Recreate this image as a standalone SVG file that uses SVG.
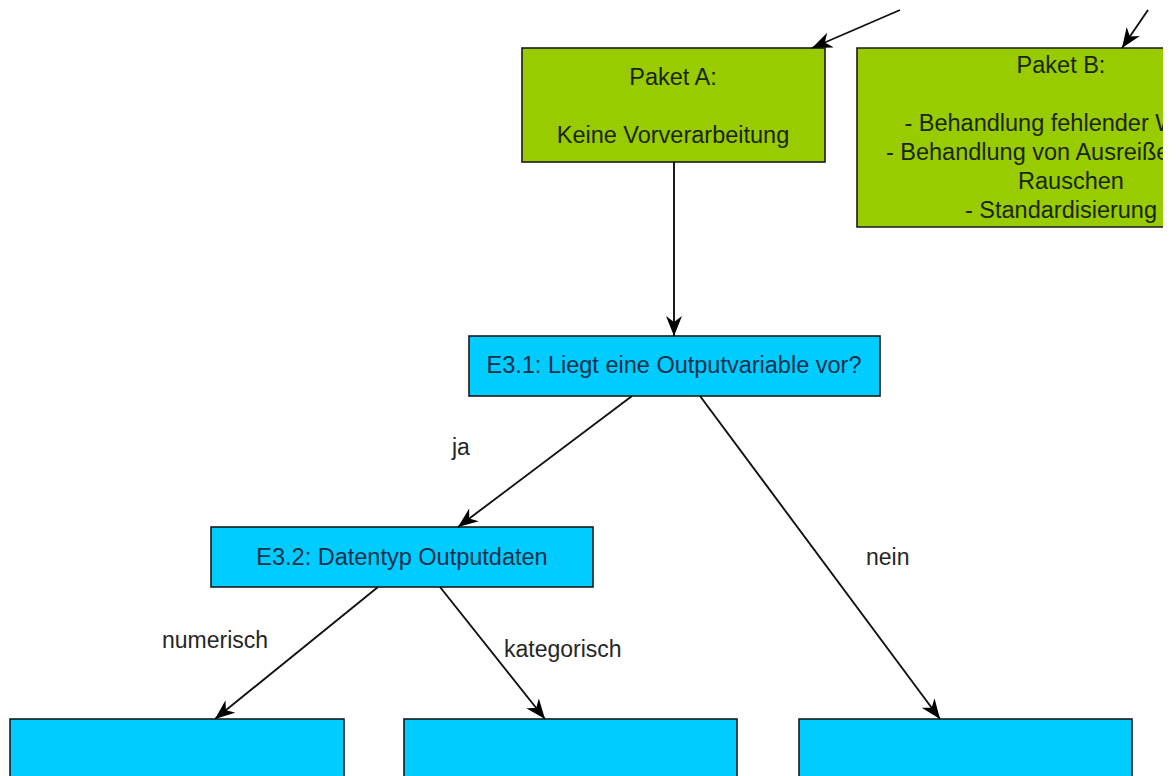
<svg xmlns="http://www.w3.org/2000/svg" width="1176" height="776" viewBox="0 0 1176 776">
  <style>
    .green { fill: #99cc00; stroke: #1a1a1a; stroke-width: 1.6; }
    .blue { fill: #00ccff; stroke: #1a1a1a; stroke-width: 1.6; }
    .t { font-family: "Liberation Sans", Arial, sans-serif; font-size: 23.5px; text-anchor: middle; }
    .tg { fill: #1a260a; }
    .tb { fill: #10304c; }
    .lbl { font-family: "Liberation Sans", Arial, sans-serif; font-size: 23px; fill: #262626; }
    .conn { stroke: #111; stroke-width: 1.9; fill: none; marker-end: url(#arr); }
  </style>
  <defs>
    <marker id="arr" markerUnits="userSpaceOnUse" markerWidth="22" markerHeight="18" refX="20" refY="8" orient="auto">
      <path d="M0,0 L20,8 L0,16 L6,8 z" fill="#000"/>
    </marker>
    <clipPath id="clipB">
      <rect x="850" y="40" width="313" height="200"/>
    </clipPath>
  </defs>
  <rect width="1176" height="776" fill="#ffffff"/>

  <g id="paketA">
    <rect class="green" x="522" y="48" width="303" height="114"/>
    <text class="t tg" x="673" y="85">Paket A:</text>
    <text class="t tg" x="673" y="143">Keine Vorverarbeitung</text>
  </g>

  <g id="paketB">
    <rect x="857" y="48" width="306" height="179" fill="#99cc00"/>
    <path d="M1163,48 H857 V227 H1163" fill="none" stroke="#1a1a1a" stroke-width="1.6"/>
    <g clip-path="url(#clipB)">
      <text class="t tg" x="1061" y="73">Paket B:</text>
      <text class="t tg" x="1061" y="131">- Behandlung fehlender Werte</text>
      <text class="t tg" x="1061" y="160">- Behandlung von Ausreißern und</text>
      <text class="t tg" x="1071" y="189">Rauschen</text>
      <text class="t tg" x="1061" y="218">- Standardisierung</text>
    </g>
  </g>

  <g id="e31">
    <rect class="blue" x="469" y="336" width="411" height="60"/>
    <text class="t tb" x="674" y="373">E3.1: Liegt eine Outputvariable vor?</text>
  </g>

  <g id="e32">
    <rect class="blue" x="211" y="527" width="382" height="60"/>
    <text class="t tb" x="402" y="565">E3.2: Datentyp Outputdaten</text>
  </g>

  <g id="leaf1">
    <rect class="blue" x="10" y="719" width="334" height="70"/>
  </g>
  <g id="leaf2">
    <rect class="blue" x="404" y="719" width="333" height="70"/>
  </g>
  <g id="leaf3">
    <rect class="blue" x="799" y="719" width="333" height="70"/>
  </g>

  <g id="connectors">
    <line class="conn" x1="900" y1="10" x2="812" y2="48"/>
    <line class="conn" x1="1148" y1="10" x2="1122" y2="48"/>
    <line class="conn" x1="674" y1="162" x2="674" y2="336"/>
    <line class="conn" x1="632" y1="396" x2="458" y2="527"/>
    <line class="conn" x1="700" y1="396" x2="940" y2="719"/>
    <line class="conn" x1="378" y1="587" x2="215" y2="719"/>
    <line class="conn" x1="440" y1="587" x2="545" y2="719"/>
  </g>

  <g id="labels">
    <text class="lbl" x="452" y="455">ja</text>
    <text class="lbl" x="866" y="565">nein</text>
    <text class="lbl" x="162" y="648">numerisch</text>
    <text class="lbl" x="504" y="657">kategorisch</text>
  </g>
</svg>
